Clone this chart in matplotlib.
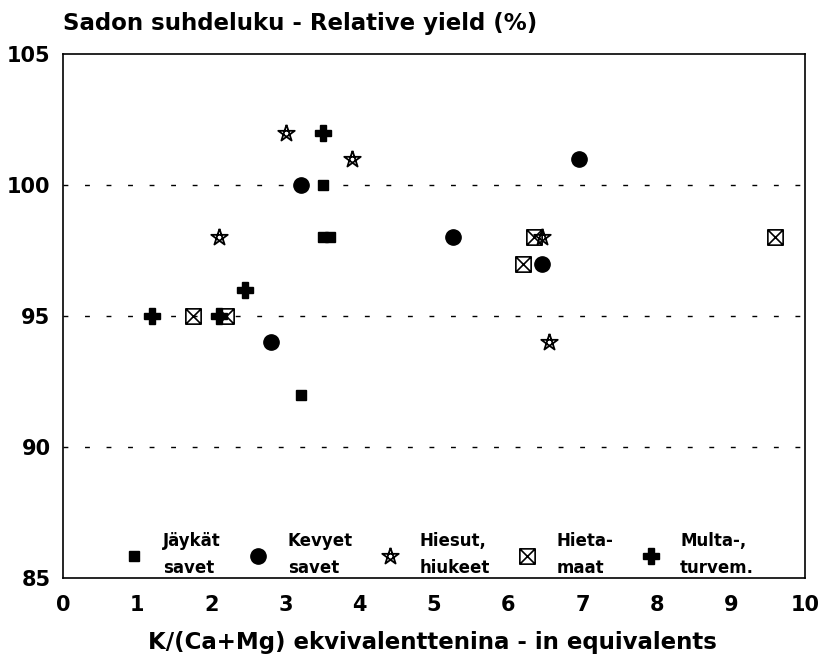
import numpy as np
import matplotlib
matplotlib.use("Agg")
import matplotlib.pyplot as plt
from matplotlib.path import Path

plt.rcParams['font.family'] = ['DejaVu Sans']
plt.rcParams['font.weight'] = 'bold'

# Soil groups: K/(Ca+Mg) ratio (x) and relative yield % (y)
jaykat_x = [3.2, 3.5, 3.5, 3.6]
jaykat_y = [92, 100, 98, 98]
kevyet_x = [2.8, 3.2, 5.25, 6.45, 6.95]
kevyet_y = [94, 100, 98, 97, 101]
hiesut_x = [2.1, 3.0, 3.9, 6.45, 6.55]
hiesut_y = [98, 102, 101, 98, 94]
hieta_x = [1.75, 2.2, 6.2, 6.35, 9.6]
hieta_y = [95, 95, 97, 98, 98]
multa_x = [1.2, 2.1, 2.45, 3.5]
multa_y = [95, 95, 96, 102]

labels = ["Jäykät\nsavet", "Kevyet\nsavet", "Hiesut,\nhiukeet", "Hieta-\nmaat", "Multa-,\nturvem."]
x_ticks = list(range(0, 11))
y_ticks = [85, 90, 95, 100, 105]
grid_levels = [90, 95, 100]

# pentagram outline marker
ang = np.deg2rad(90 + np.arange(5) * 72)
pts = np.column_stack([np.cos(ang), np.sin(ang)])
order = [0, 2, 4, 1, 3, 0]
star_path = Path(pts[order], [Path.MOVETO] + [Path.LINETO] * 5)

# square with crossed diagonals
box_verts = [(-1, -1), (1, -1), (1, 1), (-1, 1), (-1, -1),
             (-1, -1), (1, 1), (-1, 1), (1, -1)]
box_codes = [Path.MOVETO, Path.LINETO, Path.LINETO, Path.LINETO, Path.CLOSEPOLY,
             Path.MOVETO, Path.LINETO, Path.MOVETO, Path.LINETO]
box_path = Path(box_verts, box_codes)

fig = plt.figure(figsize=(8.19, 6.66), dpi=100)
ax = fig.add_axes([0.077, 0.132, 0.906, 0.787])

for lv in grid_levels:
    ax.axhline(lv, color='black', lw=1.0, ls=(0, (3.5, 12)), zorder=1)

h1, = ax.plot(jaykat_x, jaykat_y, ls='none', marker='s', ms=7.5, mfc='black', mec='black', zorder=3)
h2, = ax.plot(kevyet_x, kevyet_y, ls='none', marker='o', ms=11, mfc='black', mec='black', zorder=3)
h3, = ax.plot(hiesut_x, hiesut_y, ls='none', marker=star_path, ms=12.5, mfc='none', mec='black', mew=1.3, zorder=3)
h4, = ax.plot(hieta_x, hieta_y, ls='none', marker=box_path, ms=11, mfc='none', mec='black', mew=1.2, zorder=3)
h5, = ax.plot(multa_x, multa_y, ls='none', marker='P', ms=12, mfc='black', mec='black', zorder=3)

ax.set_xlim(0, 10)
ax.set_ylim(85, 105)
ax.set_xticks(x_ticks)
ax.set_yticks(y_ticks)
ax.tick_params(length=0, labelsize=15)
ax.tick_params(axis='x', pad=12)
ax.tick_params(axis='y', pad=9)
for lab in ax.get_xticklabels() + ax.get_yticklabels():
    lab.set_fontweight('bold')
for s in ax.spines.values():
    s.set_linewidth(1.2)

leg = ax.legend([h1, h2, h3, h4, h5], labels, loc='lower center',
                bbox_to_anchor=(0.505, -0.026), ncol=5, frameon=False,
                markerscale=1.0, handlelength=1.5, handletextpad=1.0,
                columnspacing=1.5, prop={'size': 12, 'weight': 'bold'})
for t in leg.get_texts():
    t.set_linespacing(1.6)

fig.text(0.077, 0.965, "Sadon suhdeluku - Relative yield (%)", fontsize=16.5,
         fontweight='bold', ha='left', va='center')
fig.text(0.528, 0.036, "K/(Ca+Mg) ekvivalenttenina - in equivalents", fontsize=16.5,
         fontweight='bold', ha='center', va='center')

fig.savefig("out.png", dpi=100)
